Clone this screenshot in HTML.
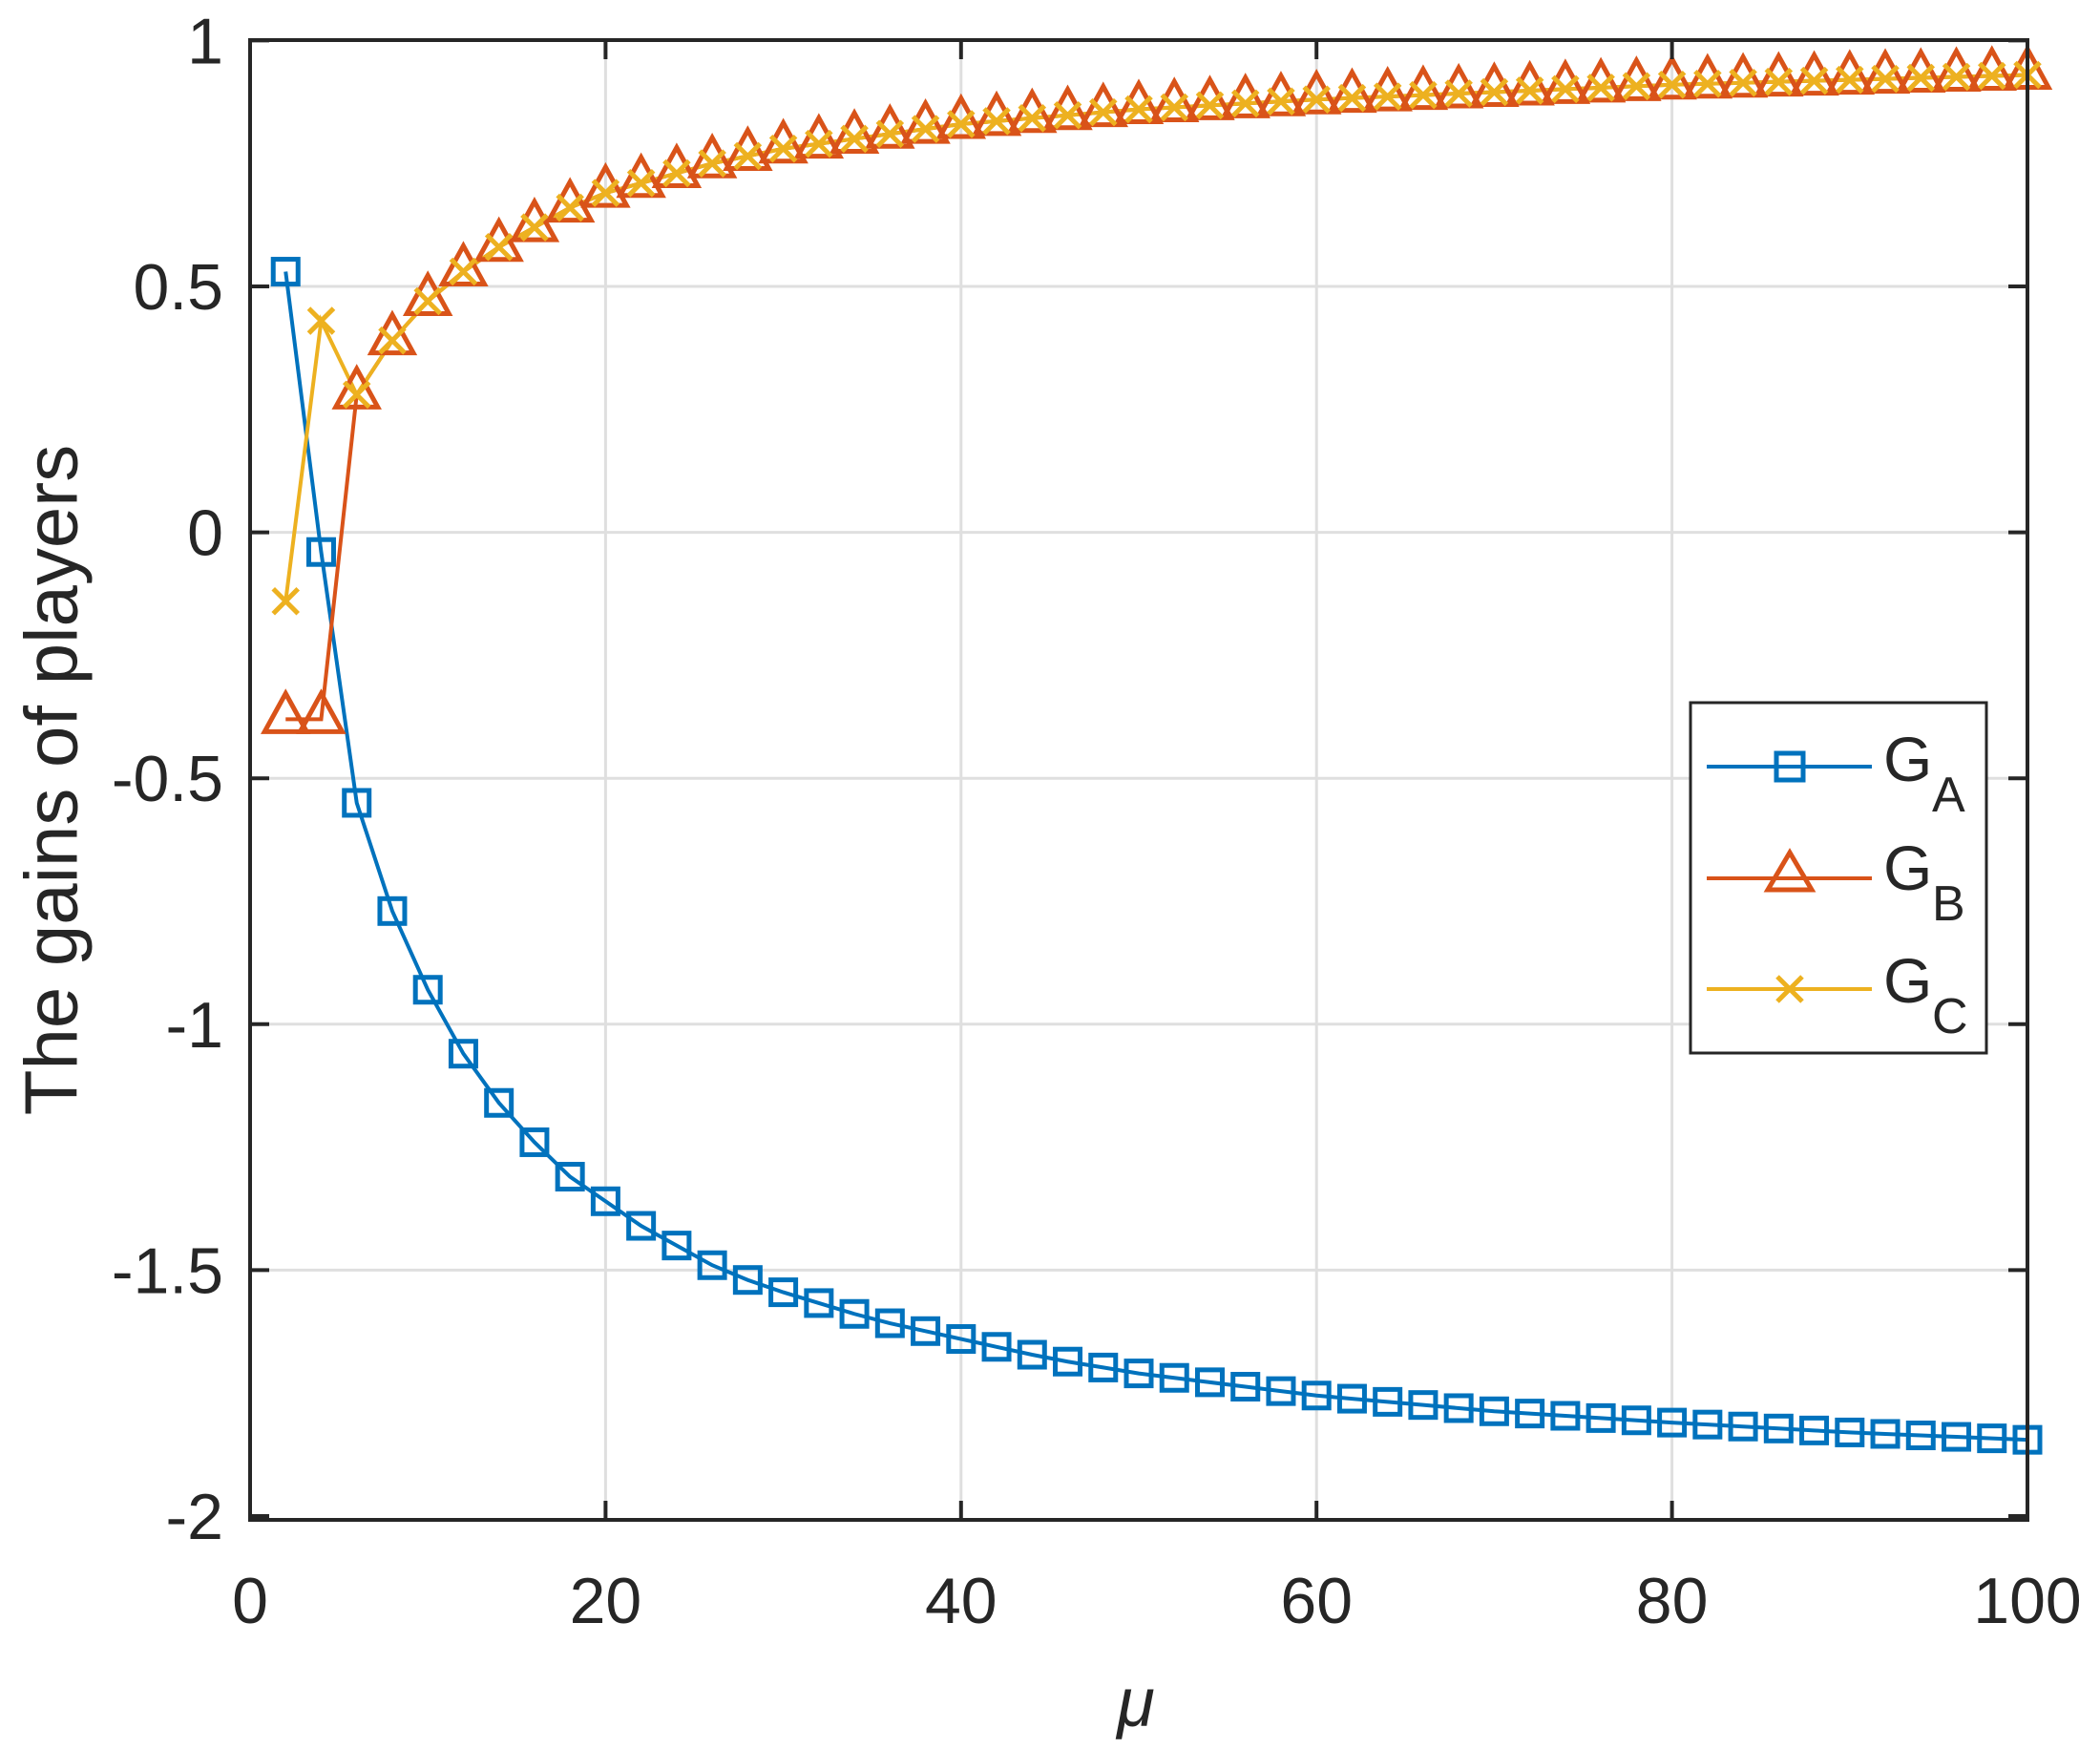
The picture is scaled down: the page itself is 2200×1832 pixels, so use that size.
<!DOCTYPE html>
<html><head><meta charset="utf-8"><style>
html,body{margin:0;padding:0;background:#fff;}
svg{display:block;}
text{font-family:"Liberation Sans",sans-serif;fill:#262626;}
</style></head><body>
<svg id="s" width="2200" height="1832" xmlns="http://www.w3.org/2000/svg">
<rect width="2200" height="1832" fill="#fff"/>
<g id="grid" stroke="#dfdfdf" stroke-width="3"></g>
<g id="data"></g>
<rect x="262" y="42" width="1862" height="1550" fill="none" stroke="#262626" stroke-width="4"/>
<g id="ticks" stroke="#262626" stroke-width="4"></g>
<g id="labels" font-size="68"></g>
<text x="60" y="817" font-size="78" text-anchor="middle" transform="rotate(-90 60 817)" dominant-baseline="middle">The gains of players</text>
<text x="1190" y="1808" font-size="72" font-style="italic" text-anchor="middle" font-family="Liberation Serif, serif">μ</text>
<g id="legend">
<rect x="1771" y="736" width="310" height="367" fill="#fff" stroke="#262626" stroke-width="3"/>
<line x1="1788" y1="803" x2="1961" y2="803" stroke="#0072bd" stroke-width="4"/>
<rect x="1861" y="789" width="28" height="28" fill="none" stroke="#0072bd" stroke-width="5"/>
<line x1="1788" y1="920" x2="1961" y2="920" stroke="#d95319" stroke-width="4"/>
<polygon points="1875,893 1898,932 1852,932" fill="none" stroke="#d95319" stroke-width="5"/>
<line x1="1788" y1="1036" x2="1961" y2="1036" stroke="#edb120" stroke-width="4"/>
<path d="M1862,1023 L1888,1049 M1888,1023 L1862,1049" stroke="#edb120" stroke-width="5"/>
<text x="1973" y="818" font-size="66" fill="#000">G</text><text x="2024" y="850" font-size="52" fill="#000">A</text>
<text x="1973" y="932" font-size="66" fill="#000">G</text><text x="2024" y="964" font-size="52" fill="#000">B</text>
<text x="1973" y="1050" font-size="66" fill="#000">G</text><text x="2024" y="1082" font-size="52" fill="#000">C</text>
</g>
</svg>
<script>
const NS="http://www.w3.org/2000/svg";
const X=m=>262+m*18.62, Y=v=>557.6-v*515.2;
function el(p,t,a){const e=document.createElementNS(NS,t);for(const k in a)e.setAttribute(k,a[k]);p.appendChild(e);return e;}
const grid=document.getElementById('grid'),ticks=document.getElementById('ticks'),lab=document.getElementById('labels');
for(let m=0;m<=100;m+=20){const x=X(m);
 if(m>0&&m<100)el(grid,'line',{x1:x,y1:42,x2:x,y2:1592});
 el(ticks,'line',{x1:x,y1:1592,x2:x,y2:1572});el(ticks,'line',{x1:x,y1:42,x2:x,y2:62});
 const t=el(lab,'text',{x:x,y:1700,'text-anchor':'middle'});t.textContent=m;}
for(let v=-2;v<=1;v+=0.5){const y=Y(v);
 if(v>-2&&v<1)el(grid,'line',{x1:262,y1:y,x2:2124,y2:y});
 el(ticks,'line',{x1:262,y1:y,x2:282,y2:y});el(ticks,'line',{x1:2124,y1:y,x2:2104,y2:y});
 const t=el(lab,'text',{x:234,y:y+24,'text-anchor':'end'});t.textContent=String(v);}
function interp(pts){const ks=Object.keys(pts).map(Number).sort((a,b)=>a-b);const out=[];
 for(let m=2;m<=100;m+=2){let v;if(pts[m]!==undefined)v=pts[m];else{let i=0;while(ks[i+1]<m)i++;const a=ks[i],b=ks[i+1];v=pts[a]+(pts[b]-pts[a])*(m-a)/(b-a);}out.push([m,v]);}return out;}
const A=interp({2:0.53,4:-0.04,6:-0.55,8:-0.77,10:-0.93,12:-1.06,14:-1.16,16:-1.24,18:-1.31,20:-1.36,22:-1.41,24:-1.45,26:-1.49,28:-1.52,30:-1.545,35:-1.6,40:-1.64,45:-1.68,50:-1.71,60:-1.755,70:-1.787,80:-1.81,90:-1.83,100:-1.845});
const Bp={2:-0.38,4:-0.38,6:0.28,8:0.39,10:0.47,12:0.53,14:0.58,16:0.62,18:0.66,20:0.69,22:0.71,24:0.73,26:0.75,28:0.765,30:0.78,35:0.805,40:0.83,50:0.86,60:0.88,70:0.895,80:0.91,90:0.92,100:0.93};
const B=interp(Bp);const Cp=Object.assign({},Bp,{2:-0.14,4:0.43,6:0.28});const C=interp(Cp);
const d=document.getElementById('data');
function line(s,c){el(d,'polyline',{points:s.map(p=>X(p[0])+','+Y(p[1])).join(' '),fill:'none',stroke:c,'stroke-width':4});}
line(A,'#0072bd');line(B,'#d95319');line(C,'#edb120');
A.forEach(p=>el(d,'rect',{x:X(p[0])-13,y:Y(p[1])-13,width:26,height:26,fill:'none',stroke:'#0072bd','stroke-width':5}));
B.forEach(p=>{const x=X(p[0]),y=Y(p[1]);el(d,'polygon',{points:`${x},${y-27} ${x+22},${y+13} ${x-22},${y+13}`,fill:'none',stroke:'#d95319','stroke-width':5});});
C.forEach(p=>{const x=X(p[0]),y=Y(p[1]);el(d,'path',{d:`M${x-13},${y-13}L${x+13},${y+13}M${x+13},${y-13}L${x-13},${y+13}`,stroke:'#edb120','stroke-width':5});});
</script>
</body></html>
